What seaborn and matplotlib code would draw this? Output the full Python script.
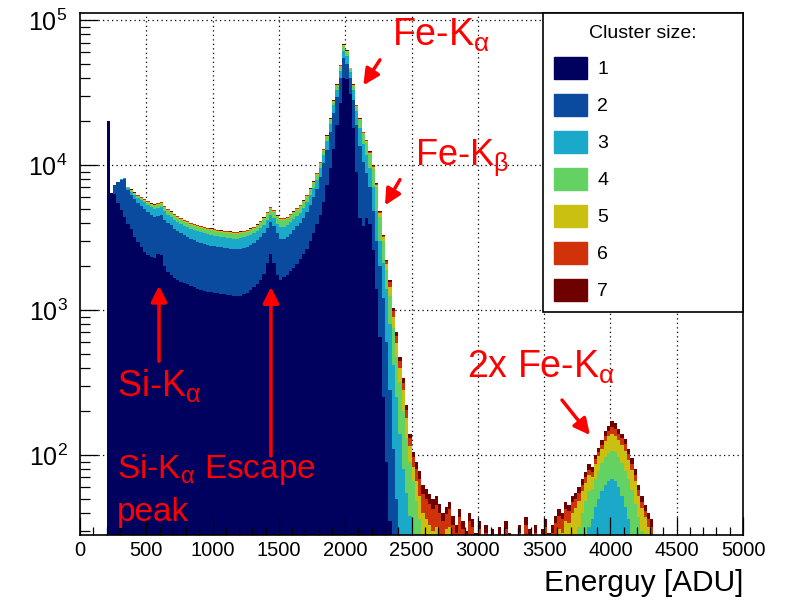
import numpy as np
import pandas as pd
import matplotlib
matplotlib.use("Agg")
import matplotlib.pyplot as plt
import seaborn as sns
from matplotlib.patches import Patch
from matplotlib.ticker import LogLocator, MultipleLocator, LogFormatterMathtext, NullFormatter

# ---------------- data ----------------
bin_start = 200      # ADU, left edge of first bin
bin_width = 25       # ADU

# cumulative stacked heights: counts of clusters with size <= k in each bin
upto_1 = [
    20000, 6400, 6300, 5500, 4900, 4350, 3950, 3600, 3200, 2950,
    2700, 2520, 2400, 2330, 2290, 2450, 2380, 2020, 1840, 1740,
    1670, 1610, 1570, 1540, 1500, 1460, 1430, 1400, 1370, 1350,
    1340, 1320, 1310, 1300, 1290, 1280, 1270, 1260, 1240, 1240,
    1250, 1280, 1310, 1370, 1440, 1520, 1600, 1780, 2100, 2450,
    2100, 1750, 1620, 1680, 1750, 1850, 1950, 2080, 2250, 2420,
    2650, 2980, 3400, 3900, 4500, 5600, 7300, 9500, 13000, 19000,
    27000, 40000, 39000, 31000, 18000, 9000, 4300, 3800, 4300, 3900,
    2600, 1400, 650, 250, 90, 35, 10, 3, 1, 0,
    0, 0, 0, 0, 0, 0, 0, 0, 0, 0,
    0, 0, 0, 0, 0, 0, 0, 0, 0, 0,
    0, 0, 0, 0, 0, 0, 0, 0, 0, 0,
    0, 0, 0, 0, 0, 0, 0, 0, 0, 0,
    0, 0, 0, 0, 0, 0, 0, 0, 0, 0,
    0, 0, 0, 0, 0, 0, 0, 0, 0, 0,
    0, 0, 0, 0, 0, 0, 0, 0, 0, 0,
    0, 0, 0, 0, 0, 0,
]
upto_2 = [
    20000, 6400, 7300, 7600, 7900, 8000, 6700, 6200, 5800, 5450,
    5200, 4970, 4750, 4520, 4390, 4460, 4500, 4200, 4000, 3840,
    3630, 3520, 3390, 3280, 3200, 3100, 3020, 2960, 2910, 2870,
    2810, 2780, 2750, 2720, 2700, 2680, 2660, 2640, 2630, 2620,
    2640, 2680, 2740, 2810, 2890, 3020, 3180, 3390, 3700, 4020,
    3820, 3380, 3100, 3100, 3210, 3360, 3550, 3790, 3980, 4330,
    4770, 5310, 6010, 6860, 8300, 10300, 12800, 16800, 22700, 29500,
    40000, 55000, 50000, 40000, 28000, 19000, 13500, 10500, 8800, 7000,
    4800, 3000, 2000, 1200, 600, 280, 110, 50, 25, 12,
    6, 3, 2, 1, 1, 0, 0, 0, 0, 0,
    0, 0, 0, 0, 0, 0, 0, 0, 0, 0,
    0, 0, 0, 0, 0, 0, 0, 0, 0, 0,
    0, 0, 0, 0, 0, 0, 0, 0, 0, 0,
    0, 0, 0, 0, 0, 0, 0, 0, 0, 0,
    0, 0, 0, 0, 1, 1, 1, 1, 2, 2,
    3, 3, 4, 3, 3, 2, 2, 1, 1, 1,
    0, 0, 0, 0, 0, 0,
]
upto_3 = [
    20000, 6400, 7300, 7620, 7950, 8080, 6950, 6550, 6250, 5950,
    5750, 5530, 5310, 5100, 4980, 5090, 5110, 4800, 4550, 4370,
    4160, 4030, 3910, 3800, 3710, 3620, 3550, 3480, 3440, 3390,
    3330, 3290, 3260, 3220, 3200, 3170, 3150, 3130, 3110, 3100,
    3130, 3170, 3220, 3290, 3380, 3510, 3670, 3870, 4200, 4530,
    4310, 3920, 3740, 3740, 3830, 4030, 4220, 4440, 4690, 5040,
    5520, 6180, 6930, 7920, 9560, 11800, 14700, 19300, 25800, 33100,
    44500, 61500, 56500, 44000, 33000, 23500, 18000, 14000, 11800, 9500,
    7000, 4800, 3000, 2100, 1400, 800, 420, 250, 140, 80,
    55, 38, 28, 20, 12, 7, 4, 3, 2, 2,
    2, 1, 1, 1, 1, 1, 1, 1, 1, 1,
    1, 1, 1, 1, 1, 1, 1, 1, 1, 1,
    1, 1, 1, 1, 1, 1, 1, 1, 1, 1,
    1, 1, 1, 1, 2, 2, 3, 3, 4, 4,
    6, 8, 12, 18, 25, 32, 36, 44, 50, 56,
    62, 66, 68, 66, 60, 52, 44, 36, 28, 22,
    16, 12, 9, 7, 5, 0,
]
upto_4 = [
    20000, 6400, 7300, 7640, 7980, 8120, 7020, 6650, 6330, 6080,
    5870, 5670, 5480, 5290, 5190, 5340, 5380, 5090, 4850, 4660,
    4460, 4320, 4190, 4070, 3980, 3880, 3800, 3730, 3690, 3640,
    3590, 3550, 3510, 3470, 3440, 3410, 3400, 3380, 3360, 3350,
    3380, 3410, 3470, 3540, 3640, 3780, 3980, 4220, 4610, 5000,
    4750, 4370, 4170, 4170, 4270, 4460, 4660, 4900, 5140, 5530,
    6010, 6690, 7470, 8540, 10200, 12600, 15500, 20400, 27200, 34900,
    47500, 66000, 60200, 46000, 35000, 25300, 20300, 16300, 14300, 11900,
    9400, 7000, 4400, 3000, 1900, 1250, 750, 470, 320, 200,
    130, 90, 66, 48, 36, 28, 20, 15, 12, 11,
    10, 9, 12, 11, 9, 8, 10, 7, 7, 9,
    8, 6, 7, 4, 7, 5, 6, 4, 6, 5,
    7, 5, 5, 4, 6, 5, 8, 6, 5, 6,
    5, 6, 8, 6, 8, 10, 13, 12, 16, 16,
    22, 26, 32, 40, 48, 56, 58, 68, 78, 88,
    96, 103, 107, 104, 97, 88, 78, 68, 57, 46,
    37, 30, 24, 19, 15, 0,
]
upto_5 = [
    20000, 6400, 7300, 7645, 7990, 8135, 7060, 6720, 6400, 6160,
    5960, 5760, 5570, 5370, 5270, 5420, 5470, 5170, 4930, 4730,
    4530, 4380, 4255, 4140, 4040, 3940, 3860, 3790, 3740, 3690,
    3645, 3605, 3565, 3525, 3495, 3465, 3450, 3430, 3410, 3400,
    3430, 3470, 3530, 3600, 3690, 3840, 4040, 4285, 4680, 5070,
    4825, 4430, 4235, 4235, 4335, 4530, 4730, 4975, 5220, 5615,
    6110, 6800, 7580, 8670, 10340, 12800, 15760, 20700, 27600, 35500,
    48300, 67000, 61200, 46500, 35500, 25700, 20650, 16650, 14650, 12200,
    9750, 7300, 4650, 3170, 2080, 1450, 900, 590, 400, 280,
    180, 115, 82, 66, 52, 40, 36, 33, 30, 32,
    28, 26, 31, 32, 27, 24, 27, 22, 21, 27,
    24, 21, 23, 15, 22, 18, 20, 16, 21, 18,
    23, 20, 18, 15, 21, 18, 25, 22, 20, 22,
    18, 20, 24, 20, 23, 27, 31, 29, 35, 34,
    40, 43, 48, 56, 64, 73, 70, 86, 98, 110,
    124, 134, 140, 136, 126, 117, 106, 92, 79, 66,
    52, 43, 37, 32, 28, 0,
]
upto_6 = [
    20000, 6400, 7300, 7648, 7995, 8145, 7080, 6770, 6460, 6220,
    6020, 5820, 5620, 5420, 5320, 5470, 5520, 5220, 4975, 4775,
    4580, 4430, 4300, 4180, 4080, 3980, 3900, 3830, 3780, 3730,
    3680, 3640, 3600, 3560, 3530, 3500, 3480, 3460, 3440, 3430,
    3460, 3500, 3560, 3630, 3730, 3880, 4080, 4330, 4730, 5120,
    4875, 4480, 4280, 4280, 4380, 4575, 4775, 5025, 5275, 5670,
    6170, 6870, 7660, 8760, 10450, 12940, 15920, 20900, 27860, 35800,
    48800, 67600, 61700, 46800, 35800, 25900, 20850, 16850, 14850, 12400,
    9920, 7420, 4750, 3250, 2160, 1550, 980, 660, 445, 315,
    205, 130, 96, 80, 68, 54, 50, 46, 42, 45,
    40, 35, 39, 42, 33, 29, 37, 31, 27, 35,
    32, 26, 31, 21, 29, 23, 28, 21, 28, 24,
    31, 26, 23, 20, 29, 25, 33, 28, 24, 29,
    24, 27, 32, 26, 29, 34, 38, 36, 42, 41,
    47, 50, 55, 62, 70, 79, 76, 93, 104, 117,
    134, 147, 156, 151, 140, 130, 118, 101, 87, 73,
    57, 47, 41, 36, 32, 0,
]
upto_7 = [
    20000, 6400, 7300, 7650, 8000, 8150, 7100, 6800, 6500, 6250,
    6050, 5850, 5650, 5450, 5350, 5500, 5550, 5250, 5000, 4800,
    4600, 4450, 4320, 4200, 4100, 4000, 3920, 3850, 3800, 3750,
    3700, 3660, 3620, 3580, 3550, 3520, 3500, 3480, 3460, 3450,
    3480, 3520, 3580, 3650, 3750, 3900, 4100, 4350, 4750, 5150,
    4900, 4500, 4300, 4300, 4400, 4600, 4800, 5050, 5300, 5700,
    6200, 6900, 7700, 8800, 10500, 13000, 16000, 21000, 28000, 36000,
    49000, 68000, 62000, 47000, 36000, 26000, 21000, 17000, 15000, 12500,
    10000, 7500, 4800, 3300, 2200, 1600, 1030, 700, 470, 340,
    220, 140, 105, 90, 78, 62, 58, 54, 50, 52,
    46, 40, 44, 47, 38, 33, 42, 35, 30, 40,
    36, 29, 35, 24, 33, 26, 31, 24, 32, 27,
    35, 29, 26, 23, 33, 28, 37, 31, 27, 33,
    27, 31, 36, 29, 33, 38, 42, 40, 47, 45,
    52, 55, 60, 68, 76, 86, 82, 100, 112, 126,
    145, 158, 172, 165, 150, 140, 128, 110, 95, 80,
    62, 52, 45, 40, 36, 0,
]

cluster_sizes = [1, 2, 3, 4, 5, 6, 7]
size_colors = ["#00005f", "#0a4b9f", "#1aa9c9", "#63d263", "#c9c012", "#d0320a", "#6e0000"]
legend_title = "Cluster size:"
x_label = "Energuy [ADU]"

# ---------------- build long-form table ----------------
cum = np.array([upto_1, upto_2, upto_3, upto_4, upto_5, upto_6, upto_7], dtype=float)
counts = np.clip(np.diff(np.vstack([np.zeros(cum.shape[1]), cum]), axis=0), 0, None)
n_bins = cum.shape[1]
centers = bin_start + bin_width * (np.arange(n_bins) + 0.5)
df = pd.DataFrame({
    "energy": np.tile(centers, len(cluster_sizes)),
    "size": np.repeat(cluster_sizes, n_bins),
    "count": counts.ravel(),
})

# ---------------- style ----------------
plt.rcParams["font.family"] = ["Liberation Sans", "DejaVu Sans"]
plt.rcParams["mathtext.fontset"] = "custom"
plt.rcParams["mathtext.rm"] = "Liberation Sans"
plt.rcParams["mathtext.it"] = "Liberation Sans:italic"
plt.rcParams["mathtext.bf"] = "Liberation Sans:bold"

W, H = 795, 603
fig = plt.figure(figsize=(W / 100, H / 100), dpi=100)
ax_l, ax_r, ax_t, ax_b = 80, 743, 13, 535
ax = fig.add_axes([ax_l / W, 1 - ax_b / H, (ax_r - ax_l) / W, (ax_b - ax_t) / H])

palette = dict(zip(cluster_sizes, size_colors))
sns.histplot(data=df, x="energy", weights="count", hue="size",
             hue_order=cluster_sizes[::-1], palette=palette,
             multiple="stack", binwidth=bin_width,
             binrange=(bin_start, bin_start + bin_width * n_bins),
             element="step", fill=True, antialiased=False,
             alpha=1, linewidth=0, legend=False, ax=ax)

ax.set_yscale("log")
ax.set_xlim(0, 5000)
ax.set_ylim(28, 1.12e5)
ax.set_ylabel("")

# grid (dotted, below data)
for xv in range(500, 5000, 500):
    ax.axvline(xv, color="black", lw=0.9, ls=(0, (1, 2.6)), zorder=0.5)
for yv in [1e2, 1e3, 1e4, 1e5]:
    ax.axhline(yv, color="black", lw=0.9, ls=(0, (1, 2.6)), zorder=0.5)
ax.set_axisbelow(False)

ax.xaxis.set_major_locator(MultipleLocator(500))
ax.xaxis.set_minor_locator(MultipleLocator(100))
ax.yaxis.set_major_locator(LogLocator(base=10, numticks=10))
ax.yaxis.set_minor_locator(LogLocator(base=10, subs=np.arange(2, 10), numticks=30))
ax.yaxis.set_major_formatter(LogFormatterMathtext())
ax.yaxis.set_minor_formatter(NullFormatter())
ax.tick_params(axis="both", which="both", direction="in", top=False, right=False, color="black")
ax.tick_params(axis="x", which="major", length=13, width=0.9, labelsize=14.5, pad=4)
ax.tick_params(axis="x", which="minor", length=6, width=0.9)
ax.tick_params(axis="y", which="major", length=13, width=0.9, labelsize=18, pad=9)
ax.tick_params(axis="y", which="minor", length=7, width=0.9)
for s in ax.spines.values():
    s.set_linewidth(1.2)
    s.set_color("black")

ax.set_xlabel(x_label, loc="right", fontsize=21.5, labelpad=7)

# legend
handles = [Patch(facecolor=c, edgecolor=c) for c in size_colors]
leg = ax.legend(handles, [str(s) for s in cluster_sizes], title=legend_title,
                loc="upper left", bbox_to_anchor=(0.698, 0.0, 0.302, 1.0),
                mode="expand", borderaxespad=0, fontsize=14, title_fontsize=14,
                handlelength=1.7, handleheight=1.32, labelspacing=0.8,
                handletextpad=0.5, borderpad=0.6, fancybox=False, framealpha=1,
                edgecolor="black")
leg.get_frame().set_linewidth(1.2)
leg.set_zorder(5)

# annotations
red = "#ff0000"
ax.text(2353, 6.62e4, r"Fe-K$_\mathrm{α}$", color=red, fontsize=27, ha="left", va="baseline")
ax.text(2526, 1.0e4, r"Fe-K$_\mathrm{β}$", color=red, fontsize=26, ha="left", va="baseline")
ax.text(279, 255, r"Si-K$_\mathrm{α}$", color=red, fontsize=26, ha="left", va="baseline")
ax.text(279, 69.4, r"Si-K$_\mathrm{α}$ Escape", color=red, fontsize=24, ha="left", va="baseline")
ax.text(279, 35.1, "peak", color=red, fontsize=24, ha="left", va="baseline")
ax.text(2919, 340, r"2x Fe-K$_\mathrm{α}$", color=red, fontsize=27, ha="left", va="baseline")

arrow_kw = dict(arrowstyle="-|>", color=red, lw=2.5, mutation_scale=24, shrinkA=0, shrinkB=0)
ax.annotate("", xy=(2137, 3.55e4), xytext=(2262, 5.32e4), arrowprops=arrow_kw)
ax.annotate("", xy=(2300, 5.27e3), xytext=(2413, 7.93e3), arrowprops=arrow_kw)
ax.annotate("", xy=(596, 1.47e3), xytext=(596, 443), arrowprops=arrow_kw)
ax.annotate("", xy=(1440, 1.44e3), xytext=(1440, 98.4), arrowprops=arrow_kw)
ax.annotate("", xy=(3846, 137), xytext=(3635, 239), arrowprops=arrow_kw)

fig.savefig("out.png", dpi=100)
